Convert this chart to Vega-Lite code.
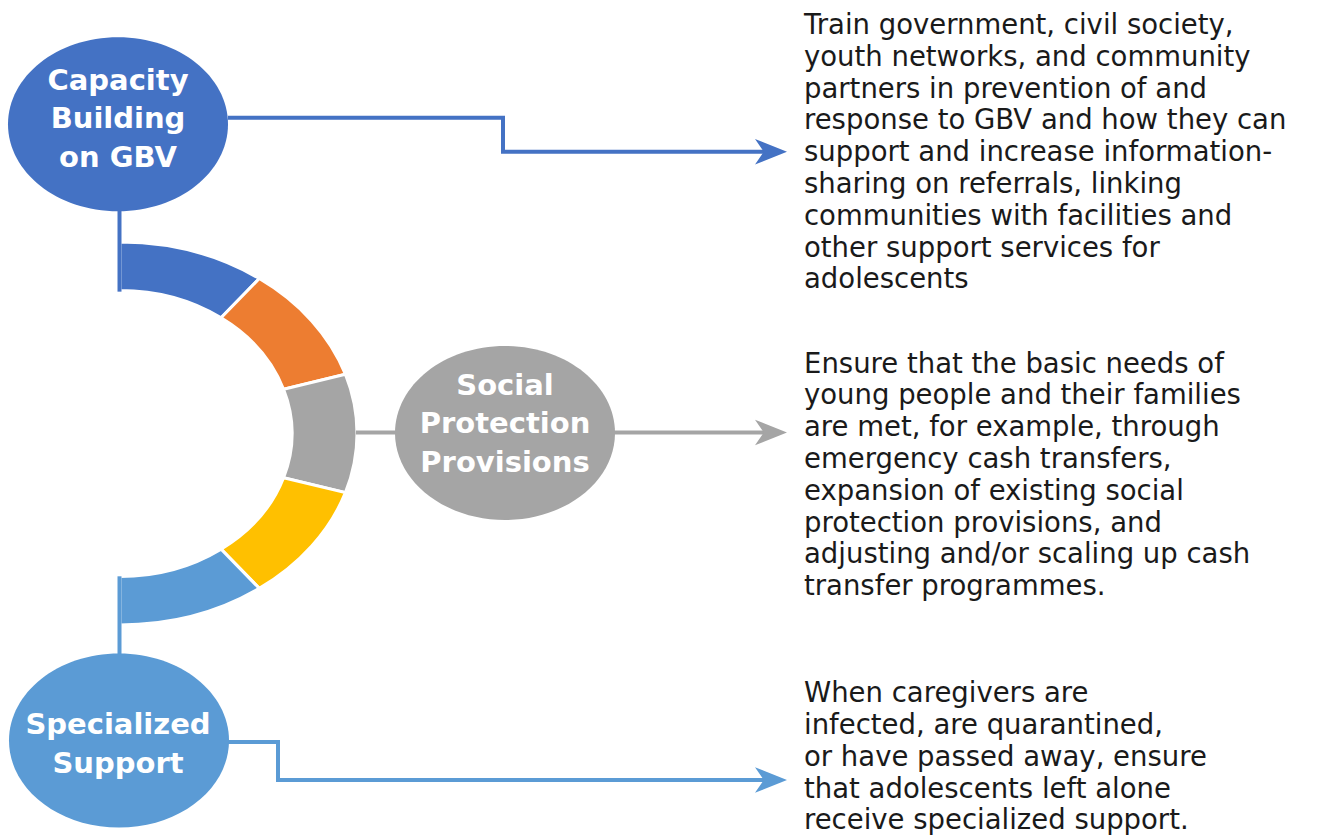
{
  "$schema": "https://vega.github.io/schema/vega-lite/v6.json",
  "width": 1324,
  "height": 835,
  "autosize": {"type": "fit", "contains": "padding"},
  "padding": 0,
  "background": "white",
  "config": {"view": {"stroke": null}},
  "datasets": {
    "ring": [
      {"x": 120, "y": 434, "theme": "capacity"},
      {"x": 120, "y": 434, "theme": "orange"},
      {"x": 120, "y": 434, "theme": "social"},
      {"x": 120, "y": 434, "theme": "yellow"},
      {"x": 120, "y": 434, "theme": "specialized"}
    ],
    "links": [
      {"link": "cap_h", "seq": 0, "x": 228, "y": 118, "theme": "capacity"},
      {"link": "cap_h", "seq": 1, "x": 503, "y": 118, "theme": "capacity"},
      {"link": "cap_h", "seq": 2, "x": 503, "y": 152, "theme": "capacity"},
      {"link": "cap_h", "seq": 3, "x": 765, "y": 152, "theme": "capacity"},
      {"link": "cap_v", "seq": 0, "x": 119.5, "y": 200, "theme": "capacity"},
      {"link": "cap_v", "seq": 1, "x": 119.5, "y": 292, "theme": "capacity"},
      {"link": "soc", "seq": 0, "x": 356, "y": 433, "theme": "social"},
      {"link": "soc", "seq": 1, "x": 765, "y": 433, "theme": "social"},
      {"link": "spec_v", "seq": 0, "x": 119.5, "y": 577, "theme": "specialized"},
      {"link": "spec_v", "seq": 1, "x": 119.5, "y": 665, "theme": "specialized"},
      {"link": "spec_h", "seq": 0, "x": 228, "y": 743, "theme": "specialized"},
      {"link": "spec_h", "seq": 1, "x": 278, "y": 743, "theme": "specialized"},
      {"link": "spec_h", "seq": 2, "x": 278, "y": 781, "theme": "specialized"},
      {"link": "spec_h", "seq": 3, "x": 765, "y": 781, "theme": "specialized"}
    ],
    "nodes": [
      {"x": 118, "y": 124.5, "theme": "capacity"},
      {"x": 505, "y": 433.5, "theme": "social"},
      {"x": 119, "y": 741.5, "theme": "specialized"}
    ],
    "arrows": [
      {"x": 771, "y": 152, "theme": "capacity"},
      {"x": 771, "y": 433, "theme": "social"},
      {"x": 771, "y": 781, "theme": "specialized"}
    ],
    "nodeLabels": [
      {"x": 118, "y": 67, "label": "Capacity\nBuilding\non GBV"},
      {"x": 505, "y": 372, "label": "Social\nProtection\nProvisions"},
      {"x": 118, "y": 712, "label": "Specialized\nSupport"}
    ],
    "paragraphs": [
      {"x": 804, "y": 12, "text": "Train government, civil society,\nyouth networks, and community\npartners in prevention of and\nresponse to GBV and how they can\nsupport and increase information-\nsharing on referrals, linking\ncommunities with facilities and\nother support services for\nadolescents"},
      {"x": 804, "y": 351, "text": "Ensure that the basic needs of\nyoung people and their families\nare met, for example, through\nemergency cash transfers,\nexpansion of existing social\nprotection provisions, and\nadjusting and/or scaling up cash\ntransfer programmes."},
      {"x": 804, "y": 681, "text": "When caregivers are\ninfected, are quarantined,\nor have passed away, ensure\nthat adolescents left alone\nreceive specialized support."}
    ]
  },
  "encoding": {
    "x": {"field": "x", "type": "quantitative", "scale": {"domain": [0, 1324], "nice": false, "zero": false}, "axis": null},
    "y": {"field": "y", "type": "quantitative", "scale": {"domain": [0, 835], "nice": false, "zero": false, "reverse": true}, "axis": null}
  },
  "layer": [
    {
      "data": {"name": "ring"},
      "mark": {"type": "point", "filled": true, "size": 40000, "opacity": 1, "stroke": "white", "strokeWidth": 3},
      "encoding": {
        "color": {"field": "theme", "type": "nominal", "legend": null,
          "scale": {"domain": ["capacity", "orange", "social", "yellow", "specialized"], "range": ["#4472C4", "#ED7D31", "#A5A5A5", "#FFC000", "#5B9BD5"]}},
        "shape": {"field": "theme", "type": "nominal", "legend": null,
          "scale": {"domain": ["capacity", "orange", "social", "yellow", "specialized"],
            "range": [
              "M 0 -1.915 A 2.37 1.915 0 0 1 1.3931 -1.5492 L 1.011 -1.1569 A 1.72 1.43 0 0 0 0 -1.43 Z",
              "M 1.3931 -1.5492 A 2.37 1.915 0 0 1 2.2541 -0.5917 L 1.6359 -0.4419 A 1.72 1.43 0 0 0 1.011 -1.1569 Z",
              "M 2.2541 -0.5917 A 2.37 1.915 0 0 1 2.2541 0.5917 L 1.6359 0.4419 A 1.72 1.43 0 0 0 1.6359 -0.4419 Z",
              "M 2.2541 0.5917 A 2.37 1.915 0 0 1 1.3931 1.5492 L 1.011 1.1569 A 1.72 1.43 0 0 0 1.6359 0.4419 Z",
              "M 1.3931 1.5492 A 2.37 1.915 0 0 1 0 1.915 L 0 1.43 A 1.72 1.43 0 0 0 1.011 1.1569 Z"
            ]}}
      }
    },
    {
      "data": {"name": "links"},
      "mark": {"type": "line", "strokeWidth": 4, "strokeJoin": "miter", "opacity": 1},
      "encoding": {
        "color": {"field": "theme", "type": "nominal", "legend": null,
          "scale": {"domain": ["capacity", "orange", "social", "yellow", "specialized"], "range": ["#4472C4", "#ED7D31", "#A5A5A5", "#FFC000", "#5B9BD5"]}},
        "detail": {"field": "link", "type": "nominal"},
        "order": {"field": "seq", "type": "quantitative"}
      }
    },
    {
      "data": {"name": "nodes"},
      "mark": {"type": "point", "filled": true, "size": 40000, "opacity": 1, "strokeWidth": 0,
        "shape": "M -1.1 0 A 1.1 0.87 0 1 1 1.1 0 A 1.1 0.87 0 1 1 -1.1 0 Z"},
      "encoding": {
        "color": {"field": "theme", "type": "nominal", "legend": null,
          "scale": {"domain": ["capacity", "orange", "social", "yellow", "specialized"], "range": ["#4472C4", "#ED7D31", "#A5A5A5", "#FFC000", "#5B9BD5"]}}
      }
    },
    {
      "data": {"name": "arrows"},
      "mark": {"type": "point", "filled": true, "size": 1024, "opacity": 1, "strokeWidth": 0,
        "shape": "M 1 0 L -1 -0.8 L -0.45 0 L -1 0.8 Z"},
      "encoding": {
        "color": {"field": "theme", "type": "nominal", "legend": null,
          "scale": {"domain": ["capacity", "orange", "social", "yellow", "specialized"], "range": ["#4472C4", "#ED7D31", "#A5A5A5", "#FFC000", "#5B9BD5"]}}
      }
    },
    {
      "data": {"name": "nodeLabels"},
      "mark": {"type": "text", "font": "DejaVu Sans", "fontWeight": "bold", "fontSize": 29, "lineHeight": 38.5,
        "lineBreak": "\n", "align": "center", "baseline": "top", "color": "#FFFFFF"},
      "encoding": {"text": {"field": "label", "type": "nominal"}}
    },
    {
      "data": {"name": "paragraphs"},
      "mark": {"type": "text", "font": "DejaVu Sans", "fontSize": 27.5, "lineHeight": 31.8,
        "lineBreak": "\n", "align": "left", "baseline": "top", "color": "#1a1a1a"},
      "encoding": {"text": {"field": "text", "type": "nominal"}}
    }
  ]
}
